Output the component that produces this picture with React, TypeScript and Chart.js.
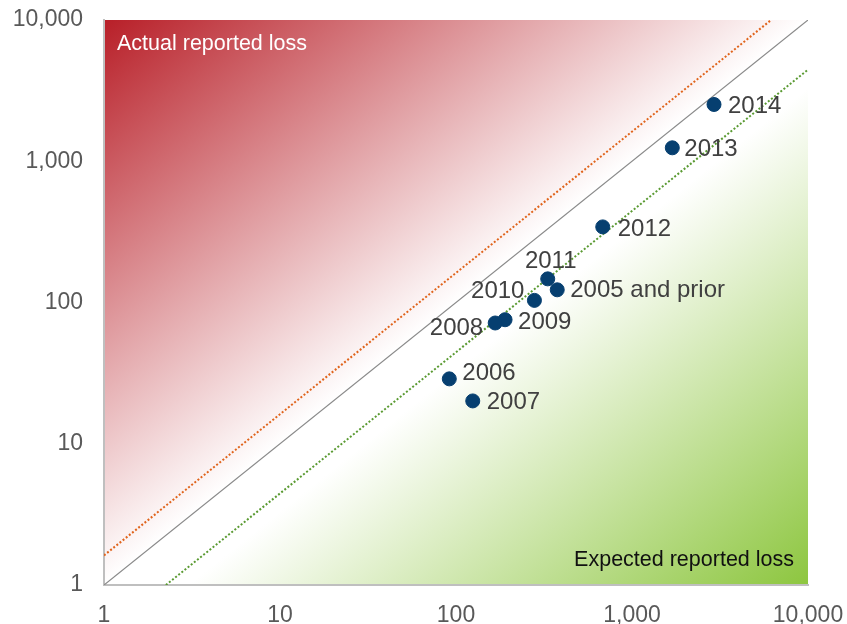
import React, { useEffect, useRef } from "react";
import { Chart, registerables } from "chart.js";

Chart.register(...registerables);

// Accident years, expected vs. actual reported loss
const years = ["2014", "2013", "2012", "2011", "2005 and prior", "2010", "2009", "2008", "2006", "2007"];
const expectedLoss = [2924, 1694, 682, 332, 376, 279, 190, 167, 91.6, 124.5];
const actualLoss = [2523, 1245, 343, 147, 123, 103.5, 75.5, 71.6, 28.8, 20.1];

// Axis ticks
const tickValues = [1, 10, 100, 1000, 10000];
const tickLabels = ["1", "10", "100", "1,000", "10,000"];

// Reference lines: actual = expected, plus upper/lower tolerance bands
const axisMin = 1;
const axisMax = 10000;
const upperFactor = 1.62;
const lowerFactor = 0.445;

// Label placement around each point: dx, dy in px and alignment
const labelPlacement: Record<string, { dx: number; dy: number; align: CanvasTextAlign }> = {
  "2014": { dx: 14, dy: 2, align: "left" },
  "2013": { dx: 12, dy: 2, align: "left" },
  "2012": { dx: 15, dy: 2, align: "left" },
  "2011": { dx: 3, dy: -17, align: "center" },
  "2005 and prior": { dx: 13, dy: 1, align: "left" },
  "2010": { dx: -10, dy: -9, align: "right" },
  "2009": { dx: 13, dy: 3, align: "left" },
  "2008": { dx: -12, dy: 5, align: "right" },
  "2006": { dx: 13, dy: -5, align: "left" },
  "2007": { dx: 14, dy: 1, align: "left" },
};

const FONT = "'Liberation Sans', Arial, sans-serif";

const backgroundPlugin = {
  id: "quadrantGradient",
  beforeDraw(chart: any) {
    const { ctx, chartArea } = chart;
    const { left, top, right, bottom } = chartArea;
    ctx.save();
    ctx.translate(left, top);
    ctx.scale(right - left, bottom - top);
    const g = ctx.createLinearGradient(0, 0, 1, 1);
    g.addColorStop(0, "#b81f28");
    g.addColorStop(0.5, "#ffffff");
    g.addColorStop(0.56, "#ffffff");
    g.addColorStop(1, "#8dc63f");
    ctx.fillStyle = g;
    ctx.fillRect(0, 0, 1, 1);
    ctx.restore();

    ctx.save();
    ctx.font = `21.5px ${FONT}`;
    ctx.textBaseline = "alphabetic";
    ctx.fillStyle = "#ffffff";
    ctx.textAlign = "left";
    ctx.fillText("Actual reported loss", left + 13, top + 30);
    ctx.fillStyle = "#111111";
    ctx.textAlign = "right";
    ctx.fillText("Expected reported loss", right - 14, bottom - 19);
    ctx.restore();
  },
};

const pointLabelPlugin = {
  id: "pointLabels",
  afterDatasetsDraw(chart: any) {
    const { ctx } = chart;
    const meta = chart.getDatasetMeta(0);
    ctx.save();
    ctx.font = `24px ${FONT}`;
    ctx.fillStyle = "#404040";
    ctx.textBaseline = "middle";
    meta.data.forEach((pt: any, i: number) => {
      const name = years[i];
      const p = labelPlacement[name];
      ctx.textAlign = p.align;
      ctx.fillText(name, pt.x + p.dx, pt.y + p.dy);
    });
    ctx.restore();
  },
};

export default function App() {
  const canvasRef = useRef<HTMLCanvasElement | null>(null);

  useEffect(() => {
    if (!canvasRef.current) return;
    const tickFont = { family: FONT, size: 23 };
    const axisBase = (extra: any) => ({
      type: "logarithmic" as const,
      min: axisMin,
      max: axisMax,
      grid: { display: true, color: "rgba(0,0,0,0)", drawTicks: false },
      border: { display: true, color: "#bfbfbf", width: 2 },
      afterBuildTicks: (scale: any) => {
        scale.ticks = tickValues.map((v) => ({ value: v }));
      },
      ...extra,
    });

    const chart = new Chart(canvasRef.current, {
      type: "scatter",
      data: {
        datasets: [
          {
            label: "Accident years",
            data: expectedLoss.map((x, i) => ({ x, y: actualLoss[i] })),
            backgroundColor: "#063f70",
            borderColor: "#063f70",
            pointRadius: 7,
            order: 0,
          },
          {
            label: "Actual = expected",
            data: [
              { x: axisMin, y: axisMin },
              { x: axisMax, y: axisMax },
            ],
            showLine: true,
            borderColor: "#8a8a8a",
            borderWidth: 1.2,
            pointRadius: 0,
            order: 3,
          },
          {
            label: "Upper band",
            data: [
              { x: axisMin, y: axisMin * upperFactor },
              { x: axisMax / upperFactor, y: axisMax },
            ],
            showLine: true,
            borderColor: "#e0641c",
            borderWidth: 2,
            borderDash: [2, 2],
            pointRadius: 0,
            order: 2,
          },
          {
            label: "Lower band",
            data: [
              { x: axisMin / lowerFactor, y: axisMin },
              { x: axisMax, y: axisMax * lowerFactor },
            ],
            showLine: true,
            borderColor: "#5a9a32",
            borderWidth: 2,
            borderDash: [2, 2],
            pointRadius: 0,
            order: 1,
          },
        ],
      },
      options: {
        responsive: false,
        animation: false,
        devicePixelRatio: 1,
        layout: { padding: { left: 0, top: 20, right: 39, bottom: 0 } },
        plugins: {
          legend: { display: false },
          tooltip: { enabled: false },
        },
        scales: {
          x: axisBase({
            position: "bottom",
            afterFit: (scale: any) => {
              scale.height = 39;
              scale.paddingLeft = 0;
              scale.paddingRight = 0;
            },
            ticks: {
              autoSkip: false,
              maxRotation: 0,
              padding: 17,
              color: "#595959",
              font: tickFont,
              callback: (_v: any, i: number) => tickLabels[i],
            },
          }),
          y: axisBase({
            position: "left",
            afterFit: (scale: any) => {
              scale.width = 104;
              scale.paddingTop = 0;
              scale.paddingBottom = 0;
            },
            ticks: {
              autoSkip: false,
              padding: 21,
              color: "#595959",
              font: tickFont,
              callback: (_v: any, i: number) => tickLabels[i],
            },
          }),
        },
      },
      plugins: [backgroundPlugin, pointLabelPlugin],
    });
    return () => chart.destroy();
  }, []);

  return (
    <div style={{ position: "absolute", left: 0, top: 0, width: 847, height: 624, background: "#ffffff" }}>
      <canvas ref={canvasRef} width={847} height={624} style={{ display: "block" }} />
    </div>
  );
}
